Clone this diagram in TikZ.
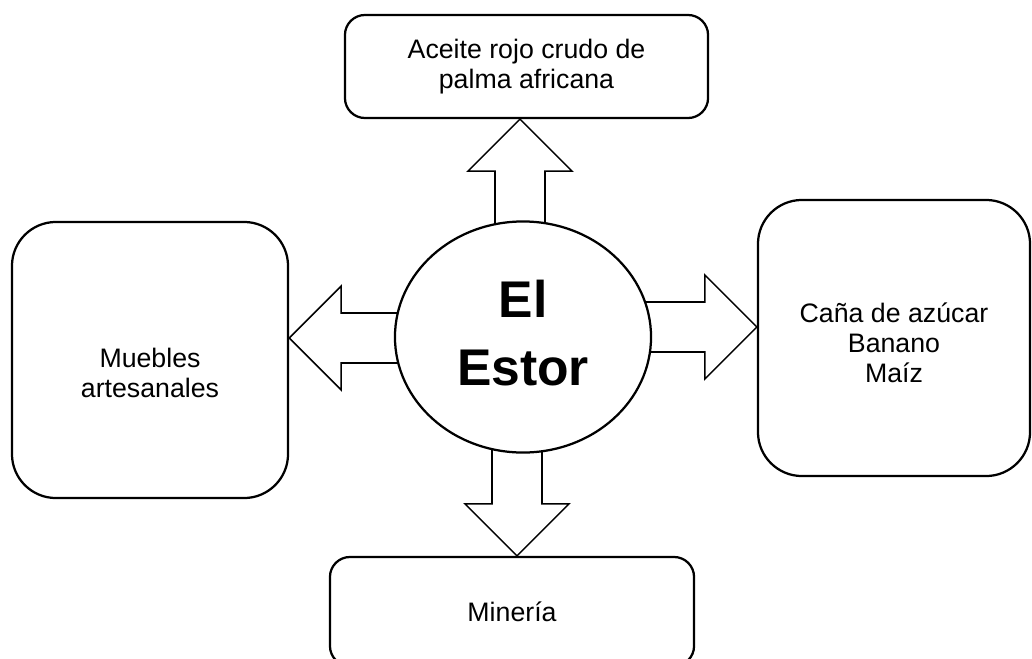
\documentclass[tikz,border=0pt]{standalone}
\usepackage{fontspec}
\setmainfont{Liberation Sans}
\usetikzlibrary{shapes.geometric,calc,backgrounds}

\begin{document}
\begin{tikzpicture}[x=0.025cm, y=-0.025cm,
  box/.style={draw, line width=1.6pt, rounded corners=#1, align=center,
    inner sep=0pt, font=\fontsize{19}{21.3}\selectfont},
  box/.default=0.5cm,
  fat/.style={draw, line width=1.1pt, fill=white,
    to path={let \p1=(\tikztostart), \p2=(\tikztotarget),
      \n1={atan2(\y2-\y1,\x2-\x1)} in
      ($(\p1)+(\n1+90:0.625cm)$)
      -- ($(\p2)+(\n1+180:1.3cm)+(\n1+90:0.625cm)$)
      -- ($(\p2)+(\n1+180:1.3cm)+(\n1+90:1.3cm)$)
      -- (\p2)
      -- ($(\p2)+(\n1+180:1.3cm)+(\n1-90:1.3cm)$)
      -- ($(\p2)+(\n1+180:1.3cm)+(\n1-90:0.625cm)$)
      -- ($(\p1)+(\n1-90:0.625cm)$) -- cycle}}]
  \path[use as bounding box, clip] (0,0) rectangle (1032,658);

  \node[box, minimum width=9.075cm, minimum height=2.575cm] (T) at (526.5,66.5)
    {Aceite rojo crudo de\\palma africana};
  \node[box=1.1cm, minimum width=6.9cm, minimum height=6.9cm, text height=1.9cm] (L) at (150,360)
    {Muebles\\artesanales};
  \node[box=1.1cm, minimum width=6.8cm, minimum height=6.9cm, text height=2.24cm] (R) at (894,338)
    {Caña de azúcar\\Banano\\Maíz};
  \node[box, minimum width=9.1cm, minimum height=2.725cm] (M) at (512,611.5)
    {Minería};
  \node[ellipse, draw, fill=white, line width=1.6pt, inner sep=0pt, align=center,
    minimum width=6.4cm, minimum height=5.775cm, text height=2.44cm,
    font=\fontsize{36.7}{48.4}\selectfont\bfseries] (E) at (523,337) {El\\Estor};

  \coordinate (E1) at ($(E)+(-3,0)$);
  \coordinate (E2) at ($(E)+(-6,0)$);
  \coordinate (E3) at ($(E)+(0,1)$);
  \coordinate (E4) at ($(E)+(0,-10)$);

  \begin{scope}[on background layer]
    \draw[fat] (E1) to (E1 |- T.south);
    \draw[fat] (E2) to (E2 |- M.north);
    \draw[fat] (E3) to (E3 -| L.east);
    \draw[fat] (E4) to (E4 -| R.west);
  \end{scope}
\end{tikzpicture}
\end{document}
